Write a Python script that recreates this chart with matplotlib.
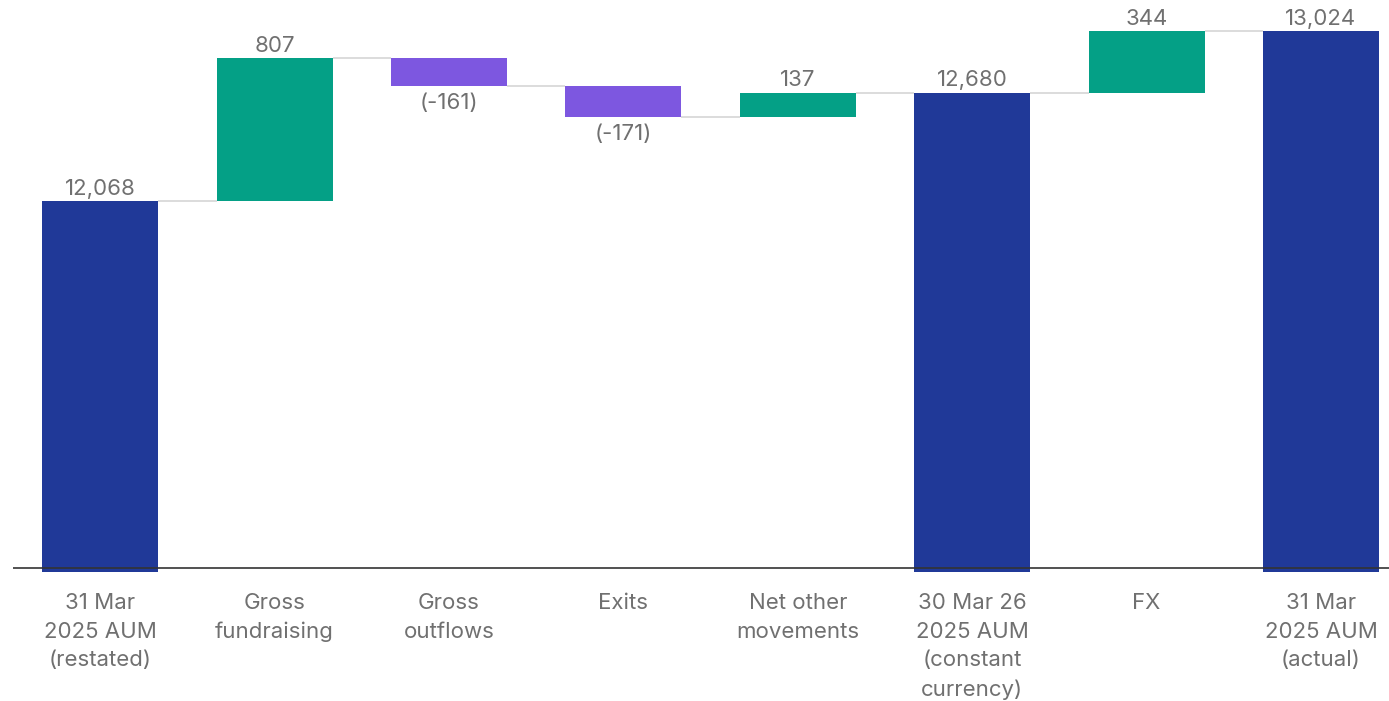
import matplotlib.pyplot as plt
import numpy as np

plt.rcParams['font.family'] = ['Inter', 'DejaVu Sans']

labels = ['31 Mar\n2025 AUM\n(restated)', 'Gross\nfundraising', 'Gross\noutflows', 'Exits',
          'Net other\nmovements', '30 Mar 26\n2025 AUM\n(constant\ncurrency)', 'FX',
          '31 Mar\n2025 AUM\n(actual)']
values = [12068, 807, -161, -171, 137, 12680, 344, 13024]
is_total = [True, False, False, False, False, True, False, True]
value_text = ['12,068', '807', '(-161)', '(-171)', '137', '12,680', '344', '13,024']

axis_min = 9985
axis_line = 10008

navy = '#203998'
green = '#04A086'
purple = '#7D57E0'
text_gray = '#707070'

fig = plt.figure(figsize=(13.89, 7.01), dpi=100)
ax = fig.add_axes([13 / 1389, 129 / 701, 1376 / 1389, 572 / 701])

x = np.arange(len(values))
width = 0.665
bottoms, heights, colors, tops = [], [], [], []
running = 0
for v, tot in zip(values, is_total):
    if tot:
        bottoms.append(axis_min)
        heights.append(v - axis_min)
        colors.append(navy)
        running = v
    else:
        start = running
        running += v
        bottoms.append(min(start, running))
        heights.append(abs(v))
        colors.append(green if v > 0 else purple)
    tops.append(running)

ax.bar(x, heights, width, bottom=bottoms, color=colors, zorder=2)

# connector lines
for i in range(len(values) - 1):
    ax.plot([x[i] + width / 2, x[i + 1] - width / 2], [tops[i], tops[i]],
            color='#d9d9d9', linewidth=1.3, zorder=1, solid_capstyle='butt')

# value labels
for i, (v, t) in enumerate(zip(values, value_text)):
    if v >= 0:
        ax.annotate(t, (x[i], bottoms[i] + heights[i]), xytext=(0, 1.5),
                    textcoords='offset points', ha='center', va='bottom',
                    fontsize=16, color=text_gray)
    else:
        ax.annotate(t, (x[i], bottoms[i]), xytext=(0, -5),
                    textcoords='offset points', ha='center', va='top',
                    fontsize=16, color=text_gray)

ax.axhline(axis_line, color='#333333', linewidth=1.2, zorder=3)

ax.set_xlim(-0.5, 7.39)
ax.set_ylim(axis_min, 13200)
ax.set_xticks(x)
ax.set_xticklabels(labels, fontsize=16, color=text_gray, linespacing=1.55)
ax.tick_params(axis='x', length=0, pad=15)
ax.set_yticks([])
for s in ax.spines.values():
    s.set_visible(False)

fig.savefig('out.png', dpi=100)
